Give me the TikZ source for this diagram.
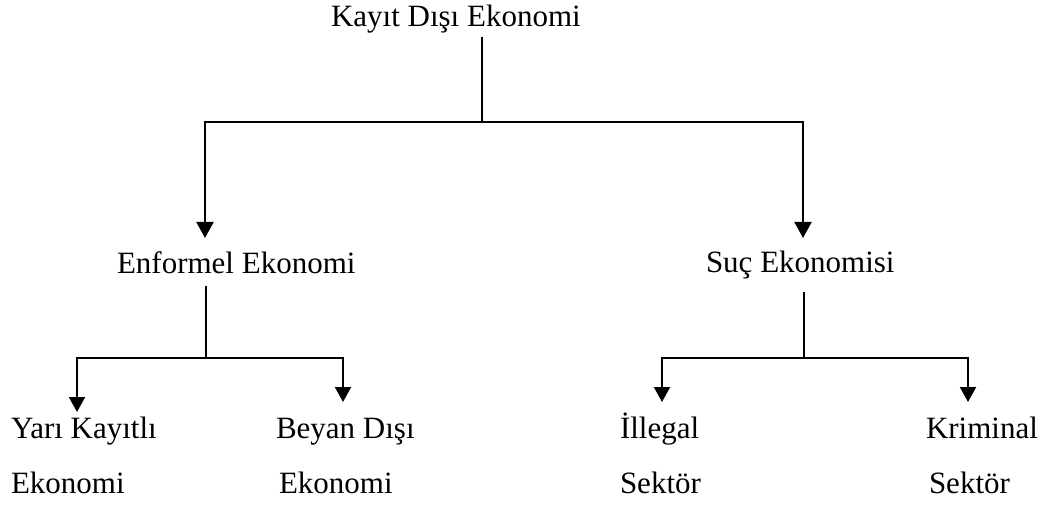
\documentclass[tikz,border=0pt]{standalone}
\usepackage{fontspec}
\setmainfont{Liberation Serif}
\usepackage{tikz}
\usetikzlibrary{arrows.meta,positioning,calc}

\tikzset{
  lbl/.style={inner sep=2pt, align=left, anchor=base west, font=\fontsize{31}{55}\selectfont},
  arr/.style={-{Triangle[width=17pt,length=16pt]}},
  arrs/.style={-{Triangle[width=16pt,length=15pt]}}
}

\begin{document}
\begin{tikzpicture}[x=1pt, y=1pt, line width=2pt]
\useasboundingbox (0,0) rectangle (1057,504);
% nodes
\node[lbl] (kde) at (328,477) {Kayıt Dışı Ekonomi};
\node[lbl] (enf) at (114,231) {Enformel Ekonomi};
\node[lbl] (suc) at (703,232) {Suç Ekonomisi};
% two-line labels sit on the baseline of their last line
\node[lbl] (yari) at (8,11) {Yarı Kayıtlı\\Ekonomi};
\node[lbl] (beyan) at (273,11) {Beyan Dışı\\\hspace{3pt}Ekonomi};
\node[lbl] (illegal) at (617,11) {İllegal\\Sektör};
\node[lbl] (kriminal) at (923,11) {Kriminal\\\hspace{3pt}Sektör};

% joints and arrow ends
\coordinate (j0) at (482,382);
\coordinate (j1) at (206,146);
\coordinate (j2) at (804,146);
\coordinate (enf-in) at (205,266);
\coordinate (suc-in) at (803,266);
\coordinate (yari-in) at (77,92);
\coordinate (beyan-in) at (343,102);
\coordinate (illegal-in) at (662,102);
\coordinate (kriminal-in) at (968,102);

% level 1
\draw (kde.south -| j0) -- (j0);
\draw[arr] (j0) -| (enf-in);
\draw[arr] (j0) -| (suc-in);

% level 2
\draw ([yshift=-10pt]enf.south -| j1) -- (j1);
\draw[arrs] (j1) -| (yari-in);
\draw[arrs] (j1) -| (beyan-in);
\draw ([yshift=-10pt]suc.south -| j2) -- (j2);
\draw[arrs] (j2) -| (illegal-in);
\draw[arrs] (j2) -| (kriminal-in);

\end{tikzpicture}
\end{document}
